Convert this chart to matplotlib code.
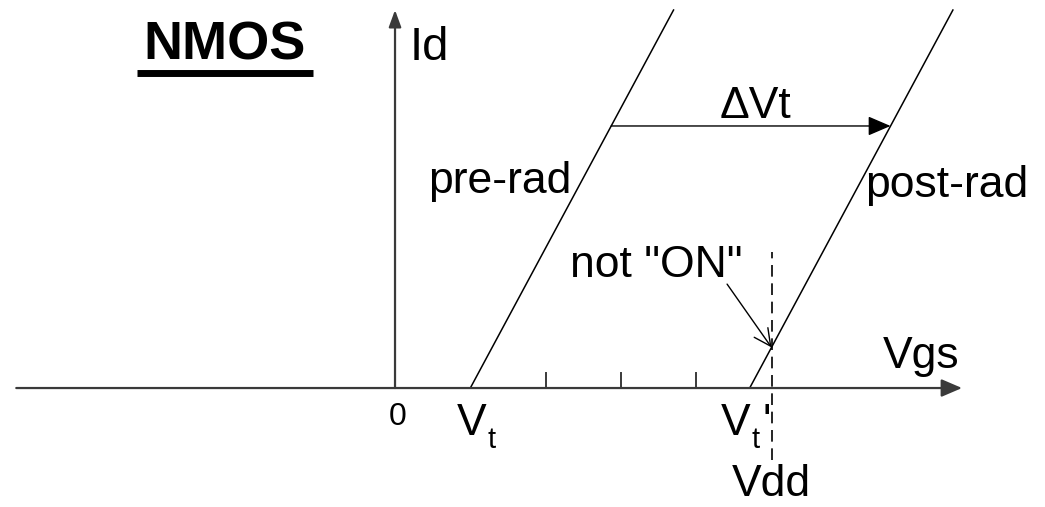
import matplotlib.pyplot as plt

plt.rcParams['font.family'] = ['Liberation Sans', 'DejaVu Sans']

# axis extents (Vgs / Id units, one tick = 1)
vgs_min, vgs_max = -5.03, 7.53
id_max = 5.02
tick_positions = [2, 3, 4]

# threshold voltages before / after irradiation, supply
vt_pre = 1.0
vt_post = 4.71
vdd = 5.0
slope = 1.86          # dId/dVgs of the idealised curves
delta_level = 3.48    # Id level where the shift arrow is drawn
vdd_span = [-0.96, 1.81]

fig = plt.figure(figsize=(10.45, 5.07), dpi=100)
ax = fig.add_axes([0, 0, 1, 1])
ax.set_xlim(-5.246, 8.632)
ax.set_ylim(-1.580, 5.153)
ax.axis('off')

axis_col = '#3a3a3a'

# Vgs axis
ax.annotate('', xy=(vgs_max, 0), xytext=(vgs_min, 0),
            arrowprops=dict(arrowstyle='-|>,head_length=0.7,head_width=0.3',
                            color=axis_col, lw=1.6, shrinkA=0, shrinkB=0,
                            mutation_scale=18))
# Id axis
ax.annotate('', xy=(0, id_max), xytext=(0, 0),
            arrowprops=dict(arrowstyle='-|>,head_length=0.6,head_width=0.22',
                            color=axis_col, lw=1.6, shrinkA=0, shrinkB=0,
                            mutation_scale=17))

# tick marks
for t in tick_positions:
    ax.plot([t, t], [0, 0.2], color=axis_col, lw=1.4)

# pre-rad and post-rad curves
for vt in (vt_pre, vt_post):
    ax.plot([vt, vt + id_max / slope], [0, id_max], color='black', lw=1.1)

# Vdd dashed line
ax.plot([vdd, vdd], vdd_span, color='black', lw=1.2, dashes=(7, 4))

# delta Vt arrow
ax.annotate('', xy=(vt_post + delta_level / slope, delta_level),
            xytext=(vt_pre + delta_level / slope, delta_level),
            arrowprops=dict(arrowstyle='-|>,head_length=0.7,head_width=0.3',
                            color='black', lw=1.0, shrinkA=0, shrinkB=0,
                            mutation_scale=20))

# "not ON" arrow
on_y = (vdd - vt_post) * slope
ax.annotate('', xy=(vdd, on_y), xytext=(4.41, 1.38),
            arrowprops=dict(arrowstyle='->,head_length=0.6,head_width=0.3',
                            color='black', lw=1.0, shrinkA=0, shrinkB=0,
                            mutation_scale=20))

fs = 32
ax.text(-2.26, 4.36, 'NMOS', fontsize=39, fontweight='bold',
        ha='center', va='baseline')
ax.plot([-3.43, -1.09], [4.19, 4.19], color='black', lw=5, solid_capstyle='butt')
ax.text(0.2, 4.36, 'Id', fontsize=34, ha='left', va='baseline')
ax.text(4.79, 3.59, '\u0394Vt', fontsize=fs, ha='center', va='baseline')
ax.text(0.44, 2.59, 'pre-rad', fontsize=fs, ha='left', va='baseline')
ax.text(6.24, 2.54, 'post-rad', fontsize=fs, ha='left', va='baseline')
ax.text(2.32, 1.47, 'not "ON"', fontsize=fs, ha='left', va='baseline')
ax.text(6.48, 0.27, 'Vgs', fontsize=fs, ha='left', va='baseline')
ax.text(0.03, -0.49, '0', fontsize=23, ha='center', va='baseline')
ax.text(0.82, -0.62, 'V', fontsize=fs, ha='left', va='baseline')
ax.text(1.23, -0.80, 't', fontsize=21, ha='left', va='baseline')
ax.text(4.32, -0.62, 'V', fontsize=fs, ha='left', va='baseline')
ax.text(4.73, -0.80, 't', fontsize=21, ha='left', va='baseline')
ax.text(4.88, -0.62, "'", fontsize=fs, ha='left', va='baseline')
ax.text(vdd, -1.43, 'Vdd', fontsize=fs, ha='center', va='baseline')

fig.savefig('out.png', dpi=100)
